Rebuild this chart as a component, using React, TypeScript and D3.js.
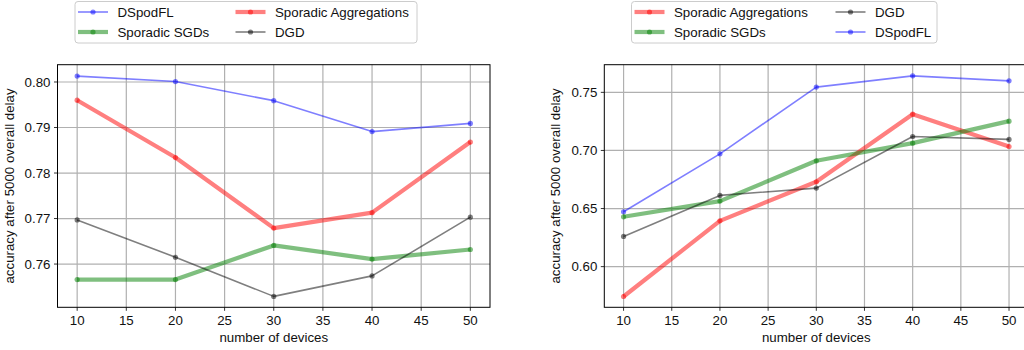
import React from 'react'
import * as d3 from 'd3'

// number of devices
const devices = [10, 20, 30, 40, 50]
const xTicks = [10, 15, 20, 25, 30, 35, 40, 45, 50]

// left panel
const leftDSpodFL = [0.8013, 0.8001, 0.7959, 0.7891, 0.7909]
const leftSporadicAgg = [0.796, 0.7834, 0.7679, 0.7713, 0.7868]
const leftSporadicSGD = [0.7566, 0.7566, 0.7641, 0.7611, 0.7632]
const leftDGD = [0.7697, 0.7615, 0.7529, 0.7574, 0.7703]
const leftYTicks = [0.76, 0.77, 0.78, 0.79, 0.8]

// right panel
const rightDSpodFL = [0.6472, 0.6971, 0.7545, 0.7642, 0.7599]
const rightSporadicAgg = [0.5743, 0.6394, 0.673, 0.7312, 0.7034]
const rightSporadicSGD = [0.6429, 0.6564, 0.6911, 0.7063, 0.7252]
const rightDGD = [0.626, 0.6613, 0.6676, 0.712, 0.7095]
const rightYTicks = [0.6, 0.65, 0.7, 0.75]

const styles: any = {
  'DSpodFL': {color: '#0000ff', width: 1.6},
  'Sporadic Aggregations': {color: '#ff0000', width: 4.2},
  'Sporadic SGDs': {color: '#008000', width: 4.2},
  'DGD': {color: '#000000', width: 1.6},
}

const font = '"Liberation Sans", Arial, sans-serif'

const Panel = ({left, right, top, bottom, yDomain, yTicks, series, legendOrder, legend}: any) => {
  const x = d3.scaleLinear().domain([8, 52]).range([left, right])
  const y = d3.scaleLinear().domain(yDomain).range([bottom, top])
  const line = d3.line<number>().x((d, i) => x(devices[i])).y(d => y(d))
  const order = ['DSpodFL', 'Sporadic Aggregations', 'Sporadic SGDs', 'DGD']
  const fmt = d3.format('.2f')
  return (
    <g>
      <defs>
        <clipPath id={'clip' + left}>
          <rect x={left} y={top} width={right - left} height={bottom - top} />
        </clipPath>
      </defs>
      {xTicks.map(t => (
        <g key={'x' + t}>
          <line x1={x(t)} x2={x(t)} y1={top} y2={bottom} stroke='#b0b0b0' strokeWidth={1.2} />
          <line x1={x(t)} x2={x(t)} y1={bottom} y2={bottom + 3.5} stroke='#000' strokeWidth={0.8} />
          <text x={x(t)} y={bottom + 18} textAnchor='middle' fontSize={13.3} fontFamily={font} fill='#111'>{t}</text>
        </g>
      ))}
      {yTicks.map((t: number) => (
        <g key={'y' + t}>
          <line x1={left} x2={right} y1={y(t)} y2={y(t)} stroke='#b0b0b0' strokeWidth={1.2} />
          <line x1={left - 3.5} x2={left} y1={y(t)} y2={y(t)} stroke='#000' strokeWidth={0.8} />
          <text x={left - 7} y={y(t) + 4.7} textAnchor='end' fontSize={13.3} fontFamily={font} fill='#111'>{fmt(t)}</text>
        </g>
      ))}
      <g clipPath={`url(#clip${left})`}>
        {order.map(name => {
          const s = styles[name]
          const vals = series[name]
          return (
            <g key={name}>
              <path d={line(vals) || ''} fill='none' stroke={s.color} strokeOpacity={0.5} strokeWidth={s.width} strokeLinejoin='round' />
              {vals.map((v: number, i: number) => (
                <circle key={i} cx={x(devices[i])} cy={y(v)} r={2.6} fill={s.color} fillOpacity={0.5} />
              ))}
            </g>
          )
        })}
      </g>
      <rect x={left} y={top} width={right - left} height={bottom - top} fill='none' stroke='#000' strokeWidth={1} />
      <text x={(left + right) / 2} y={bottom + 35} textAnchor='middle' fontSize={13.3} fontFamily={font} fill='#111'>number of devices</text>
      <text transform={`translate(${left - 44},${(top + bottom) / 2}) rotate(-90)`} textAnchor='middle' fontSize={13.3} fontFamily={font} fill='#111'>accuracy after 5000 overall delay</text>
      <rect x={legend.x} y={1.5} width={legend.w} height={41.5} rx={3} fill='#fff' fillOpacity={0.8} stroke='#cccccc' strokeWidth={1} />
      {legendOrder.map((name: string, i: number) => {
        const s = styles[name]
        const col = Math.floor(i / 2)
        const row = i % 2
        const hx = legend.cols[col]
        const hy = 12 + row * 20
        return (
          <g key={name}>
            <line x1={hx} x2={hx + 30} y1={hy} y2={hy} stroke={s.color} strokeOpacity={0.5} strokeWidth={s.width} />
            <circle cx={hx + 15} cy={hy} r={2.6} fill={s.color} fillOpacity={0.5} />
            <text x={hx + 39.5} y={hy + 4.7} fontSize={13.3} fontFamily={font} fill='#111'>{name}</text>
          </g>
        )
      })}
    </g>
  )
}

const App = () => {
  return (
    <svg width={1024} height={350} style={{position: 'absolute', left: 0, top: 0, background: '#fff'}}>
      <rect width={1024} height={350} fill='#fff' />
      <Panel left={57.5} right={490} top={64.7} bottom={307.3} yDomain={[0.7505, 0.8038]} yTicks={leftYTicks}
        series={{'DSpodFL': leftDSpodFL, 'Sporadic Aggregations': leftSporadicAgg, 'Sporadic SGDs': leftSporadicSGD, 'DGD': leftDGD}}
        legendOrder={['DSpodFL', 'Sporadic SGDs', 'Sporadic Aggregations', 'DGD']}
        legend={{x: 75, w: 342, cols: [78, 235.5]}} />
      <Panel left={604.3} right={1028.3} top={64.7} bottom={307.3} yDomain={[0.565, 0.7738]} yTicks={rightYTicks}
        series={{'DSpodFL': rightDSpodFL, 'Sporadic Aggregations': rightSporadicAgg, 'Sporadic SGDs': rightSporadicSGD, 'DGD': rightDGD}}
        legendOrder={['Sporadic Aggregations', 'Sporadic SGDs', 'DGD', 'DSpodFL']}
        legend={{x: 631.5, w: 305.5, cols: [634.5, 835.5]}} />
    </svg>
  )
}

export default App
